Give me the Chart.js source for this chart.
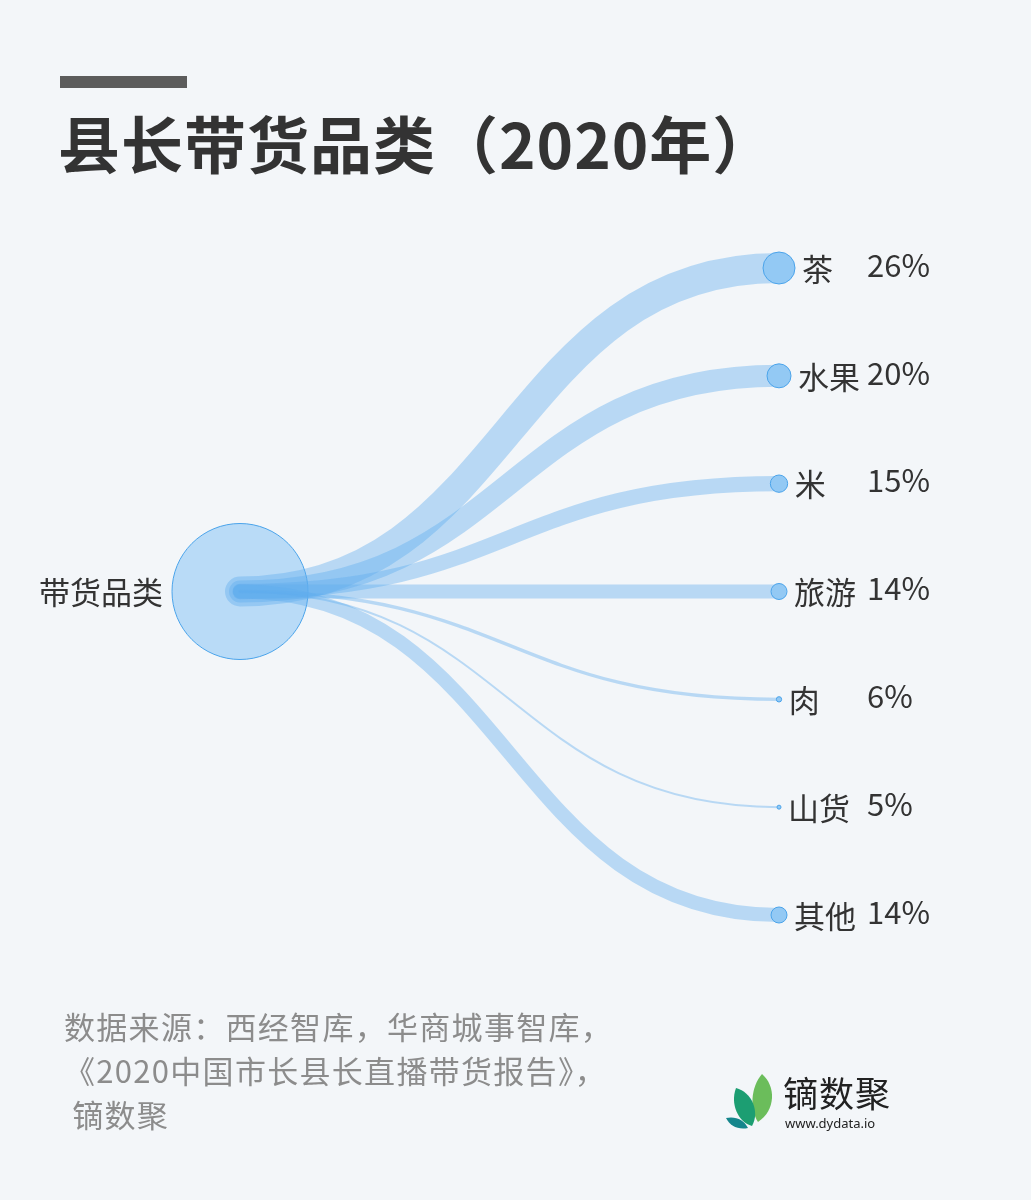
<!DOCTYPE html>
<html>
<head>
<meta charset="utf-8">
<script src="https://cdn.jsdelivr.net/npm/chart.js@4"></script>
<style>
  html, body { margin: 0; padding: 0; }
  body {
    width: 1031px; height: 1200px; position: relative; overflow: hidden;
    background: #f3f6f9;
    font-family: "Noto Sans CJK SC", "Noto Sans", sans-serif;
  }
  .bar { position: absolute; left: 60px; top: 76px; width: 127px; height: 12px; background: #5c5c5c; }
  .title {
    position: absolute; left: 58px; top: 97px; margin: 0;
    font-size: 62px; font-weight: 700; color: #333; letter-spacing: 1px; white-space: nowrap;
  }
  #chartWrap { position: absolute; left: 0; top: 0; width: 1031px; height: 1200px; }
  .source {
    position: absolute; left: 64px; top: 1004px;
    font-size: 31px; line-height: 44px; color: #8c8c8c; white-space: nowrap; letter-spacing: 1.3px;
  }
  .logo { position: absolute; left: 722px; top: 1072px; width: 200px; height: 60px; }
  .logo .name { position: absolute; left: 61px; top: 0px; font-size: 35px; color: #222; letter-spacing: 1px; line-height: 40px; }
  .logo .url { position: absolute; left: 63px; top: 42px; font-size: 13px; color: #222; font-family: "Noto Sans", sans-serif; }
</style>
</head>
<body>
<div class="bar"></div>
<h1 class="title">县长带货品类（2020年）</h1>
<div id="chartWrap"><canvas id="treeChart" width="1031" height="1200"></canvas></div>
<div class="source">数据来源：西经智库，华商城事智库，<br>《2020中国市长县长直播带货报告》，<br>&nbsp;镝数聚</div>
<div class="logo">
  <svg width="56" height="60" viewBox="0 0 56 60" style="position:absolute;left:0;top:0">
    <path d="M40 2 C54 14 54 38 36 50 C28 38 28 16 40 2 Z" fill="#6bbd5b"/>
    <path d="M14 16 C30 20 38 40 30 54 C16 50 8 32 14 16 Z" fill="#1c9e72"/>
    <path d="M4 46 C14 44 22 48 26 56 C16 58 8 54 4 46 Z" fill="#15868c"/>
  </svg>
  <div class="name">镝数聚</div>
  <div class="url">www.dydata.io</div>
</div>

<script>
const rootLabel = '带货品类';
const categories = ['茶', '水果', '米', '旅游', '肉', '山货', '其他'];
const shares = [26, 20, 15, 14, 6, 5, 14];
const shareLabels = ['26%', '20%', '15%', '14%', '6%', '5%', '14%'];

const linkColor = 'rgba(96, 172, 238, 0.4)';
const nodeBorder = '#4aa3ea';
const textColor = '#333333';

const minShare = Math.min(...shares);
const maxShare = Math.max(...shares);

function linkWidth(v) {
    return 2 + (v - minShare) / (maxShare - minShare) * 28;
}
function leafRadius(v) {
    return linkWidth(v) / 2 + 1;
}

const rootY = (categories.length - 1) / 2;
const leafPoints = categories.map((c, i) => ({ x: 1, y: i }));
const rootPoints = [{ x: 0, y: rootY }];

const treeLinks = {
    id: 'treeLinks',
    afterDatasetDraw(chart, args) {
        if (args.index !== 1) return;
        const ctx = chart.ctx;
        const xs = chart.scales.x, ys = chart.scales.y;
        const x0 = xs.getPixelForValue(0);
        const y0 = ys.getPixelForValue(rootY);
        ctx.save();
        ctx.strokeStyle = linkColor;
        ctx.lineCap = 'round';
        shares.forEach((v, i) => {
            const x1 = xs.getPixelForValue(1);
            const y1 = ys.getPixelForValue(i);
            const mx = (x0 + x1) / 2;
            ctx.lineWidth = linkWidth(v);
            ctx.beginPath();
            ctx.moveTo(x0, y0);
            ctx.bezierCurveTo(mx, y0, mx, y1, x1, y1);
            ctx.stroke();
        });
        ctx.restore();
    },
    afterDraw(chart) {
        const ctx = chart.ctx;
        const xs = chart.scales.x, ys = chart.scales.y;
        ctx.save();
        ctx.fillStyle = textColor;
        ctx.textBaseline = 'middle';
        ctx.font = '31px "Noto Sans CJK SC", sans-serif';
        // root label
        ctx.textAlign = 'right';
        ctx.fillText(rootLabel, xs.getPixelForValue(0) - 77, ys.getPixelForValue(rootY) + 1);
        // leaf labels
        ctx.textAlign = 'left';
        categories.forEach((c, i) => {
            const x1 = xs.getPixelForValue(1);
            const y1 = ys.getPixelForValue(i);
            ctx.fillText(c, x1 + leafRadius(shares[i]) + 7, y1 + 1);
            ctx.fillText(shareLabels[i], x1 + 88, y1 - 3);
        });
        ctx.restore();
    }
};

new Chart(document.getElementById('treeChart'), {
    type: 'scatter',
    data: {
        datasets: [
            {
                label: 'leaves',
                data: leafPoints,
                clip: false,
                backgroundColor: '#93c9f4',
                borderColor: nodeBorder,
                borderWidth: 1,
                pointRadius: ctx => leafRadius(shares[ctx.dataIndex]),
                pointHoverRadius: ctx => leafRadius(shares[ctx.dataIndex])
            },
            {
                label: 'root',
                data: rootPoints,
                clip: false,
                backgroundColor: '#b9dbf7',
                borderColor: nodeBorder,
                borderWidth: 1,
                pointRadius: 68,
                pointHoverRadius: 68
            }
        ]
    },
    options: {
        responsive: false,
        animation: false,
        events: [],
        layout: { padding: { left: 240, right: 252, top: 268, bottom: 285 } },
        scales: {
            x: { type: 'linear', min: 0, max: 1, display: false },
            y: { type: 'linear', min: 0, max: categories.length - 1, reverse: true, display: false }
        },
        plugins: {
            legend: { display: false },
            tooltip: { enabled: false }
        }
    },
    plugins: [treeLinks]
});
</script>
</body>
</html>
